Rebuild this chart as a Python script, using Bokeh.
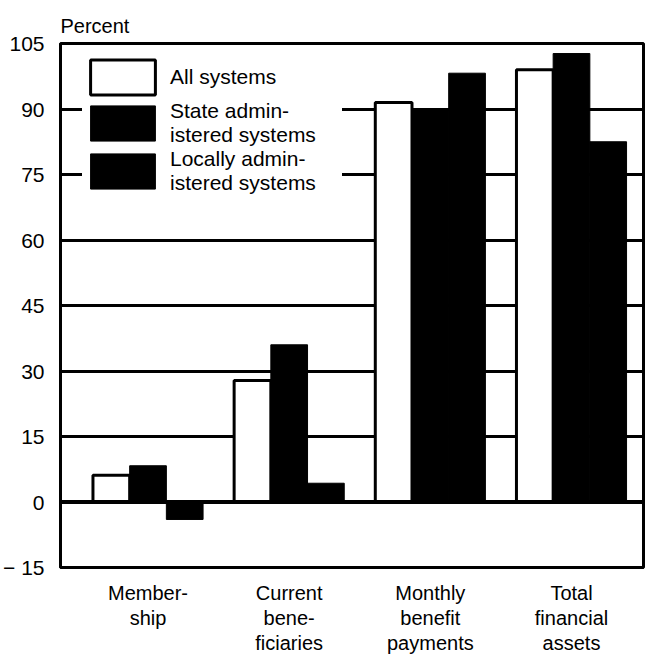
import numpy as np
from bokeh.plotting import figure
from bokeh.models import FixedTicker, Legend, LegendItem, Span, Range1d
from bokeh.embed import file_html
from bokeh.resources import INLINE

categories = ["Member-\nship", "Current\nbene-\nficiaries", "Monthly\nbenefit\npayments", "Total\nfinancial\nassets"]
series_names = ["All systems", "State admin-\nistered systems", "Locally admin-\nistered systems"]
all_systems = [6.1, 27.8, 91.5, 99.0]
state_systems = [8.3, 36.0, 89.8, 102.7]
local_systems = [-4.0, 4.3, 98.2, 82.5]
y_ticks = [-15, 0, 15, 30, 45, 60, 75, 90, 105]

FONT = "Liberation Sans"
x = np.arange(len(categories))
bw = 0.26

p = figure(width=648, height=657, x_range=Range1d(-0.62, 3.51), y_range=Range1d(-15, 105),
           output_backend="svg", toolbar_location=None, title="Percent",
           min_border_left=58, min_border_right=5, min_border_top=43, min_border_bottom=80)

p.title.text_font = FONT
p.title.text_font_size = "20px"
p.title.text_font_style = "normal"
p.title.text_color = "black"
p.title.align = "left"
p.title.offset = 0
p.title.standoff = 13

p.outline_line_color = "black"
p.outline_line_width = 3
p.background_fill_color = "white"

p.xgrid.visible = False
p.ygrid.ticker = FixedTicker(ticks=y_ticks)
p.ygrid.grid_line_color = "black"
p.ygrid.grid_line_width = 3
p.ygrid.grid_line_alpha = 1.0

p.yaxis.ticker = FixedTicker(ticks=y_ticks)
p.yaxis.major_label_overrides = {-15: "\u2212 15"}
p.yaxis.major_tick_line_color = None
p.yaxis.minor_tick_line_color = None
p.yaxis.axis_line_width = 3
p.yaxis.axis_line_color = "black"
p.yaxis.major_label_standoff = 10
p.yaxis.major_label_text_font = FONT
p.yaxis.major_label_text_font_size = "21px"
p.yaxis.major_label_text_color = "black"

p.xaxis.ticker = FixedTicker(ticks=list(range(len(categories))))
p.xaxis.major_label_overrides = {i: c for i, c in enumerate(categories)}
p.xaxis.major_tick_line_color = None
p.xaxis.minor_tick_line_color = None
p.xaxis.axis_line_width = 3
p.xaxis.axis_line_color = "black"
p.xaxis.major_label_standoff = 8
p.xaxis.major_label_text_font = FONT
p.xaxis.major_label_text_font_size = "20px"
p.xaxis.major_label_text_line_height = 1.15
p.xaxis.major_label_text_color = "black"

r_all = p.vbar(x=x - bw, top=all_systems, width=bw, fill_color="white", line_color="black", line_width=3)
r_state = p.vbar(x=x, top=state_systems, width=bw, fill_color="black", line_color="black", line_width=1)
r_local = p.vbar(x=x + bw, top=local_systems, width=bw, fill_color="black", line_color="black", line_width=1)

p.add_layout(Span(location=0, dimension="width", line_color="black", line_width=4))

legend = Legend(items=[LegendItem(label=series_names[0], renderers=[r_all]),
                       LegendItem(label=series_names[1], renderers=[r_state]),
                       LegendItem(label=series_names[2], renderers=[r_local])],
                location=(22, 372), margin=0, padding=4, spacing=0,
                glyph_width=81, glyph_height=44, label_standoff=7, label_width=172,
                label_text_font=FONT, label_text_font_size="21px", label_text_line_height=1.0,
                label_text_color="black",
                border_line_color=None, background_fill_color="white", background_fill_alpha=1.0)
p.add_layout(legend)

open("out.html", "w").write(file_html(p, INLINE))
